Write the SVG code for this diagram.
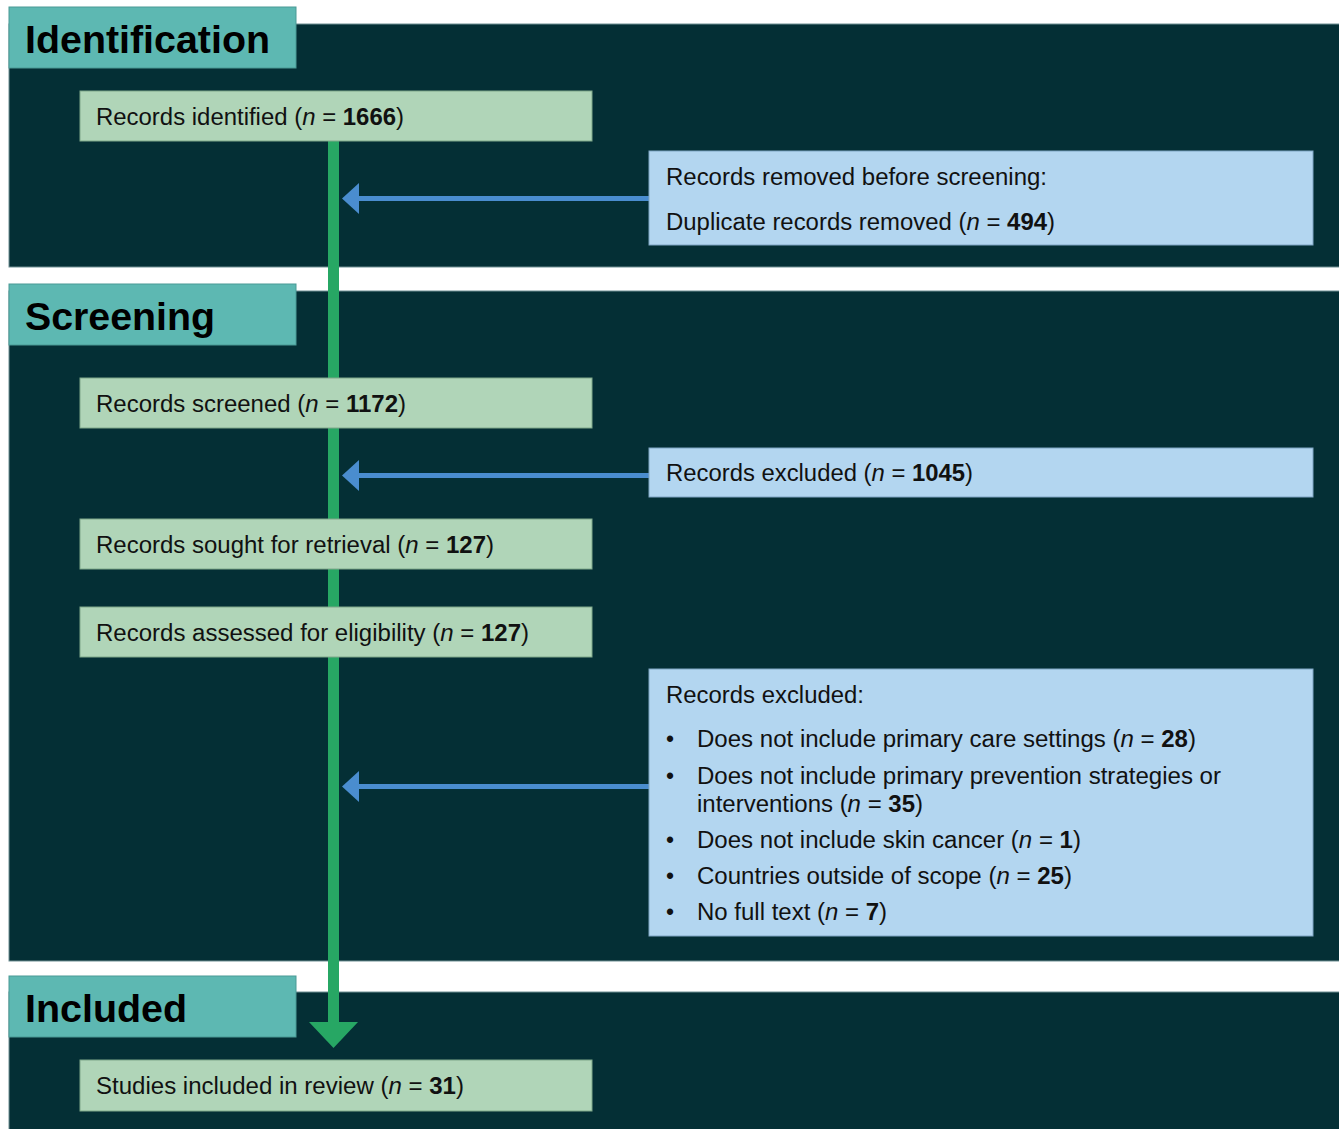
<svg xmlns="http://www.w3.org/2000/svg" width="1339" height="1129" viewBox="0 0 1339 1129">
<style>
.panel{fill:#042f35;stroke:#6f8f93;stroke-width:1}
.tab{fill:#5db8b2;stroke:#4a9a95;stroke-width:1}
.title{font-family:"Liberation Sans",Arial,sans-serif;font-size:38px;font-weight:bold;fill:#000}
.gbox{fill:#b0d5b8;stroke:#7fa88a;stroke-width:1}
.bbox{fill:#b3d6f0;stroke:#7fa5c4;stroke-width:1}
.t{font-family:"Liberation Sans",Arial,sans-serif;font-size:23px;fill:#111}
.i{font-style:italic}
.b{font-weight:bold}
.flow{stroke:#27a764;stroke-width:11;fill:none}
.side{stroke:#4a8dcf;stroke-width:5;fill:none}
.head-g{fill:#27a764}
.head-b{fill:#4a8dcf}
</style>
<rect x="0" y="0" width="1339" height="1129" fill="#ffffff"/>
<g id="panels">
<rect class="panel" x="9" y="24" width="1331" height="243"/>
<rect class="panel" x="9" y="291" width="1331" height="670"/>
<rect class="panel" x="9" y="992" width="1331" height="140"/>
</g>
<g id="connectors">
<line class="flow" x1="333.5" y1="141" x2="333.5" y2="1024"/>
<polygon class="head-g" points="309,1022 358,1022 333.5,1048"/>
<line class="side" x1="649" y1="198.5" x2="356" y2="198.5"/>
<polygon class="head-b" points="342,198.5 359,183 359,214"/>
<line class="side" x1="649" y1="475.5" x2="356" y2="475.5"/>
<polygon class="head-b" points="342,475.5 359,460 359,491"/>
<line class="side" x1="649" y1="786.5" x2="356" y2="786.5"/>
<polygon class="head-b" points="342,786.5 359,771 359,802"/>
</g>
<g id="tab-identification">
<rect class="tab" x="9" y="7" width="287" height="61"/>
<text class="title" x="25" y="53" textLength="245" lengthAdjust="spacingAndGlyphs">Identification</text>
</g>
<g id="tab-screening">
<rect class="tab" x="9" y="284" width="287" height="61"/>
<text class="title" x="25" y="330" textLength="190" lengthAdjust="spacingAndGlyphs">Screening</text>
</g>
<g id="tab-included">
<rect class="tab" x="9" y="976" width="287" height="61"/>
<text class="title" x="25" y="1022" textLength="162" lengthAdjust="spacingAndGlyphs">Included</text>
</g>
<g id="node-identified">
<rect class="gbox" x="80" y="91" width="512" height="50"/>
<text class="t" x="96" y="124.5" textLength="308" lengthAdjust="spacingAndGlyphs">Records identified (<tspan class="i">n</tspan> = <tspan class="b">1666</tspan>)</text>
</g>
<g id="node-removed">
<rect class="bbox" x="649" y="151" width="664" height="94"/>
<text class="t" x="666" y="185" textLength="381" lengthAdjust="spacingAndGlyphs">Records removed before screening:</text>
<text class="t" x="666" y="230" textLength="389" lengthAdjust="spacingAndGlyphs">Duplicate records removed (<tspan class="i">n</tspan> = <tspan class="b">494</tspan>)</text>
</g>
<g id="node-screened">
<rect class="gbox" x="80" y="378" width="512" height="50"/>
<text class="t" x="96" y="411.5" textLength="310" lengthAdjust="spacingAndGlyphs">Records screened (<tspan class="i">n</tspan> = <tspan class="b">1172</tspan>)</text>
</g>
<g id="node-excluded1">
<rect class="bbox" x="649" y="448" width="664" height="49"/>
<text class="t" x="666" y="481" textLength="307" lengthAdjust="spacingAndGlyphs">Records excluded (<tspan class="i">n</tspan> = <tspan class="b">1045</tspan>)</text>
</g>
<g id="node-sought">
<rect class="gbox" x="80" y="519" width="512" height="50"/>
<text class="t" x="96" y="552.5" textLength="398" lengthAdjust="spacingAndGlyphs">Records sought for retrieval (<tspan class="i">n</tspan> = <tspan class="b">127</tspan>)</text>
</g>
<g id="node-assessed">
<rect class="gbox" x="80" y="607" width="512" height="50"/>
<text class="t" x="96" y="640.5" textLength="433" lengthAdjust="spacingAndGlyphs">Records assessed for eligibility (<tspan class="i">n</tspan> = <tspan class="b">127</tspan>)</text>
</g>
<g id="node-excluded2">
<rect class="bbox" x="649" y="669" width="664" height="267"/>
<text class="t" x="666" y="703" textLength="198" lengthAdjust="spacingAndGlyphs">Records excluded:</text>
<text class="t" x="666" y="747">•</text>
<text class="t" x="697" y="747" textLength="499" lengthAdjust="spacingAndGlyphs">Does not include primary care settings (<tspan class="i">n</tspan> = <tspan class="b">28</tspan>)</text>
<text class="t" x="666" y="784">•</text>
<text class="t" x="697" y="784" textLength="524" lengthAdjust="spacingAndGlyphs">Does not include primary prevention strategies or</text>
<text class="t" x="697" y="812" textLength="226" lengthAdjust="spacingAndGlyphs">interventions (<tspan class="i">n</tspan> = <tspan class="b">35</tspan>)</text>
<text class="t" x="666" y="848">•</text>
<text class="t" x="697" y="848" textLength="384" lengthAdjust="spacingAndGlyphs">Does not include skin cancer (<tspan class="i">n</tspan> = <tspan class="b">1</tspan>)</text>
<text class="t" x="666" y="884">•</text>
<text class="t" x="697" y="884" textLength="375" lengthAdjust="spacingAndGlyphs">Countries outside of scope (<tspan class="i">n</tspan> = <tspan class="b">25</tspan>)</text>
<text class="t" x="666" y="920">•</text>
<text class="t" x="697" y="920" textLength="190" lengthAdjust="spacingAndGlyphs">No full text (<tspan class="i">n</tspan> = <tspan class="b">7</tspan>)</text>
</g>
<g id="node-included">
<rect class="gbox" x="80" y="1060" width="512" height="51"/>
<text class="t" x="96" y="1094" textLength="368" lengthAdjust="spacingAndGlyphs">Studies included in review (<tspan class="i">n</tspan> = <tspan class="b">31</tspan>)</text>
</g>
</svg>
